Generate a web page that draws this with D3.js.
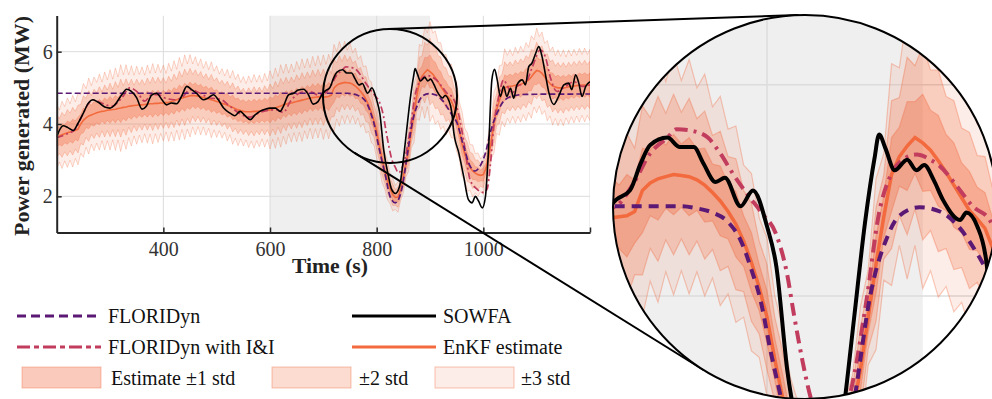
<!DOCTYPE html>
<html>
<head>
<meta charset="utf-8">
<script src="https://cdn.jsdelivr.net/npm/d3@7"></script>
<style>
  body { margin: 0; background: #fff; }
  svg { display: block; font-family: "Liberation Serif", "DejaVu Serif", serif; }
</style>
</head>
<body>
<div id="chart"></div>
<script>
// ---- data ----
const xTicks = [400, 600, 800, 1000, 1200];
const yTicks = [2, 4, 6];
const shadeSpan = [600, 900];

// SOWFA reference power (MW)
const sowfaTime = [200,206,212,221,231,240,249,259,268,278,290,300,309,322,331,340,350,360,368,378,387,397,406,415,425,434,444,453,462,475,484,494,503,513,525,534,544,553,563,572,581,591,600,610,619,625,635,644,653,663,672,681,690,697,703,712,719,725,736,744,753,759,767,773,783,791,800,806,813,822,828,835,843,850,856,863,869,872,876,882,890,896,901,907,913,924,928,935,941,944,954,963,972,979,985,991,998,1004,1010,1016,1021,1026,1032,1038,1044,1051,1057,1063,1073,1079,1085,1091,1098,1104,1110,1117,1123,1132,1141,1151,1160,1166,1173,1179,1185,1192,1200];
const sowfaPower = [3.65,3.85,3.95,3.90,3.82,4.02,4.27,4.57,4.67,4.60,4.47,4.44,4.53,4.81,4.96,4.90,4.72,4.41,4.49,4.80,4.85,4.68,4.53,4.58,4.56,4.76,5.04,4.95,4.85,4.67,4.72,4.81,4.67,4.44,4.30,4.23,4.35,4.23,4.12,4.25,4.35,4.41,4.44,4.44,4.35,4.49,4.81,4.85,4.94,4.96,4.81,4.55,4.62,4.80,4.91,5.00,5.26,5.43,5.50,5.41,5.41,5.26,5.08,5.12,4.85,5.00,4.66,4.28,3.30,2.56,2.19,2.08,2.28,3.02,3.80,4.70,5.30,5.53,5.40,5.19,5.29,5.19,5.24,5.10,4.91,4.72,4.79,4.66,4.31,3.84,3.20,2.56,1.91,1.82,2.00,1.87,1.68,2.00,3.38,5.22,5.51,5.22,4.76,5.04,4.76,4.99,4.71,5.08,5.22,5.08,5.58,5.68,5.95,6.14,5.87,5.32,4.86,4.54,4.76,5.08,5.13,4.95,5.36,5.13,4.76,5.04,5.17];

// FLORIDyn (open loop)
const floriTime = [200,745,755,765,775,783,790,796,802,808,816,825,835,847,857,866,877,885,898,911,924,935,941,950,963,975,985,994,1004,1013,1026,1038,1057,1080,1200];
const floriPower = [4.85,4.85,4.83,4.79,4.70,4.53,4.25,3.95,3.50,3.10,2.60,2.00,1.82,2.20,3.10,3.98,4.55,4.76,4.84,4.80,4.64,4.40,4.25,4.05,3.39,2.84,2.70,2.84,3.20,3.76,4.31,4.63,4.78,4.82,4.83];

// FLORIDyn with I&I
const iiTime = [200,215,235,246,259,268,284,303,322,337,350,365,378,390,403,421,437,450,462,487,506,525,544,563,575,594,613,625,638,650,666,678,690,703,714,725,736,742,753,762,770,778,787,797,806,813,817,823,828,835,841,848,855,864,872,879,887,896,905,911,922,932,943,950,963,975,988,1000,1007,1013,1019,1029,1038,1044,1054,1063,1079,1091,1107,1117,1126,1138,1154,1170,1185,1200];
const iiPower = [3.62,3.70,3.86,4.18,4.55,4.67,4.58,4.49,4.72,5.00,4.90,4.63,4.81,4.81,4.72,4.67,4.76,4.95,4.90,4.72,4.69,4.49,4.28,4.19,4.28,4.37,4.39,4.32,4.62,4.81,4.90,4.88,4.80,4.85,5.06,5.35,5.50,5.58,5.56,5.50,5.35,5.16,4.97,4.78,4.58,4.20,3.85,3.37,3.04,2.80,2.65,2.80,3.18,3.97,4.79,5.13,5.29,5.34,5.29,5.23,5.04,4.85,4.72,4.48,3.56,2.47,2.20,2.11,2.20,2.84,3.86,4.76,5.22,5.08,4.85,5.04,5.13,5.54,6.05,5.82,5.27,4.90,5.04,5.17,5.04,5.08];

// EnKF estimate, sampled every 5 s, with its standard deviation
const enkfTime = d3.range(200, 1201, 5);
const enkfPower = [
  3.65,3.67,3.70,3.73,3.76,3.78,3.80,3.83,3.86,4.00,4.10,4.17,4.22,4.25,4.28,4.31,4.33,4.35,4.36,4.38,
  4.39,4.40,4.41,4.43,4.44,4.46,4.47,4.49,4.50,4.51,4.52,4.53,4.53,4.54,4.55,4.56,4.56,4.57,4.57,4.58,
  4.58,4.59,4.60,4.62,4.64,4.67,4.70,4.72,4.74,4.76,4.78,4.79,4.78,4.77,4.75,4.73,4.71,4.69,4.67,4.65,
  4.62,4.60,4.57,4.55,4.52,4.49,4.46,4.42,4.39,4.37,4.35,4.34,4.34,4.34,4.35,4.35,4.36,4.37,4.38,4.38,
  4.39,4.42,4.44,4.47,4.50,4.53,4.55,4.57,4.58,4.60,4.62,4.64,4.66,4.68,4.70,4.72,4.73,4.74,4.75,4.75,
  4.74,4.75,4.76,4.80,5.00,5.07,5.11,5.13,5.15,5.14,5.13,5.10,5.05,4.98,4.90,4.80,4.68,4.52,4.32,4.08,
  3.80,3.40,3.04,2.72,2.45,2.22,2.05,1.97,1.98,2.20,2.55,2.90,3.30,3.80,4.30,4.75,5.15,5.32,5.42,5.50,
  5.45,5.38,5.28,5.17,5.05,4.93,4.81,4.73,4.64,4.45,4.20,3.82,3.45,3.17,2.95,2.80,2.70,2.64,2.60,2.58,
  2.60,2.78,3.10,3.55,4.05,4.40,4.65,4.85,5.00,5.03,5.04,5.05,5.07,5.08,5.10,5.13,5.17,5.22,5.30,5.40,
  5.48,5.46,5.40,5.30,5.20,5.12,5.05,5.02,5.00,5.00,5.00,5.01,5.03,5.04,5.05,5.06,5.07,5.08,5.08,5.08,
  5.08];
const enkfStd = [
  0.30,0.24,0.31,0.25,0.32,0.26,0.33,0.26,0.33,0.27,0.34,0.27,0.35,0.27,0.34,0.28,0.35,0.27,0.36,0.28,
  0.37,0.28,0.38,0.29,0.40,0.30,0.39,0.29,0.37,0.28,0.36,0.28,0.35,0.27,0.36,0.28,0.37,0.28,0.36,0.28,
  0.35,0.27,0.36,0.28,0.37,0.28,0.38,0.29,0.39,0.30,0.38,0.29,0.36,0.28,0.35,0.27,0.34,0.27,0.35,0.27,
  0.33,0.26,0.32,0.26,0.33,0.26,0.34,0.27,0.33,0.26,0.32,0.26,0.33,0.27,0.34,0.27,0.33,0.26,0.34,0.27,
  0.36,0.28,0.37,0.28,0.38,0.29,0.37,0.28,0.36,0.28,0.37,0.29,0.38,0.29,0.37,0.28,0.38,0.29,0.38,0.29,
  0.39,0.30,0.39,0.30,0.40,0.31,0.39,0.30,0.38,0.30,0.37,0.29,0.35,0.27,0.33,0.26,0.31,0.24,0.28,0.22,
  0.25,0.20,0.22,0.17,0.18,0.14,0.15,0.11,0.14,0.10,0.15,0.12,0.20,0.15,0.27,0.20,0.35,0.28,0.42,0.34,
  0.46,0.38,0.43,0.36,0.40,0.33,0.37,0.30,0.34,0.28,0.32,0.26,0.30,0.24,0.27,0.21,0.24,0.18,0.20,0.15,
  0.18,0.14,0.22,0.17,0.28,0.22,0.32,0.26,0.36,0.29,0.34,0.28,0.35,0.29,0.35,0.29,0.36,0.30,0.38,0.31,
  0.39,0.32,0.38,0.31,0.37,0.30,0.36,0.29,0.35,0.29,0.35,0.28,0.34,0.28,0.34,0.28,0.34,0.28,0.34,0.28,
  0.33];

const bandLevels = [3, 2, 1];
const bandAlpha = [0.12, 0.24, 0.35];

// ---- layout ----
const W = 992, H = 399;
const colors = { flori: '#5b1874', ii: '#c23c5e', sowfa: '#000000', enkf: '#f26a3d', band: '#f26b3f' };

const svg = d3.select('#chart').append('svg')
  .attr('width', W).attr('height', H)
  .attr('viewBox', [0, 0, W, H]);

const x = d3.scaleLinear().domain([200, 1200]).range([56.7, 590]);
const y = d3.scaleLinear().domain([1, 7]).range([232.5, 15.5]);

// magnified copy: scale factor about (800 s, 4 MW)
const mag = 2.92;
const zx0 = 767, zy0 = 296;
const xZ = d3.scaleLinear().domain(x.domain())
  .range(x.range().map(v => zx0 + (v - x(800)) * mag));
const yZ = d3.scaleLinear().domain(y.domain())
  .range(y.range().map(v => zy0 + (v - y(4)) * mag));

const small = { cx: 390, cy: 96, r: 67 };
const big = { cx: 805, cy: 207, r: 192 };

const enkf = enkfTime.map((t, i) => ({ t, v: enkfPower[i], s: enkfStd[i] }));
const sowfa = sowfaTime.map((t, i) => ({ t, v: sowfaPower[i] }));
const flori = floriTime.map((t, i) => ({ t, v: floriPower[i] }));
const ii = iiTime.map((t, i) => ({ t, v: iiPower[i] }));

function drawPanel(g, xs, ys, st) {
  const [x0, x1] = xs.range(), [y0, y1] = ys.range();
  g.append('rect')
    .attr('x', xs(shadeSpan[0])).attr('y', y1)
    .attr('width', xs(shadeSpan[1]) - xs(shadeSpan[0])).attr('height', y0 - y1)
    .attr('fill', '#efefef');

  g.selectAll('line.gx').data(xTicks).join('line').attr('class', 'gx')
    .attr('x1', d => xs(d)).attr('x2', d => xs(d))
    .attr('y1', y0).attr('y2', y1)
    .attr('stroke', '#dcdcdc').attr('stroke-width', st.grid);
  g.selectAll('line.gy').data(yTicks).join('line').attr('class', 'gy')
    .attr('x1', x0).attr('x2', x1)
    .attr('y1', d => ys(d)).attr('y2', d => ys(d))
    .attr('stroke', '#dcdcdc').attr('stroke-width', st.grid);

  bandLevels.forEach((k, i) => {
    const area = d3.area()
      .x(d => xs(d.t))
      .y0(d => ys(d.v - k * d.s))
      .y1(d => ys(d.v + k * d.s));
    g.append('path').datum(enkf)
      .attr('d', area)
      .attr('fill', colors.band).attr('fill-opacity', bandAlpha[i])
      .attr('stroke', colors.band).attr('stroke-opacity', 0.35)
      .attr('stroke-width', st.edge);
  });

  const lineOf = (curve) => d3.line().x(d => xs(d.t)).y(d => ys(d.v)).curve(curve);

  g.append('path').datum(enkf).attr('d', lineOf(d3.curveLinear))
    .attr('fill', 'none').attr('stroke', colors.enkf).attr('stroke-width', st.enkf);
  g.append('path').datum(ii).attr('d', lineOf(d3.curveMonotoneX))
    .attr('fill', 'none').attr('stroke', colors.ii).attr('stroke-width', st.dash)
    .attr('stroke-dasharray', st.iiDash);
  g.append('path').datum(flori).attr('d', lineOf(d3.curveMonotoneX))
    .attr('fill', 'none').attr('stroke', colors.flori).attr('stroke-width', st.dash)
    .attr('stroke-dasharray', st.floriDash);
  g.append('path').datum(sowfa).attr('d', lineOf(d3.curveMonotoneX))
    .attr('fill', 'none').attr('stroke', colors.sowfa).attr('stroke-width', st.sowfa)
    .attr('stroke-linejoin', 'round');
}

// ---- main axes ----
const defs = svg.append('defs');
defs.append('clipPath').attr('id', 'plotClip').append('rect')
  .attr('x', x.range()[0]).attr('y', y.range()[1])
  .attr('width', x.range()[1] - x.range()[0]).attr('height', y.range()[0] - y.range()[1]);
defs.append('clipPath').attr('id', 'zoomClip').append('circle')
  .attr('cx', big.cx).attr('cy', big.cy).attr('r', big.r);

const main = svg.append('g').attr('clip-path', 'url(#plotClip)');
drawPanel(main, x, y, { grid: 1, edge: 0.8, enkf: 1.6, dash: 1.7, sowfa: 1.6, floriDash: '6,3', iiDash: '7,3,2,3' });

const xAxis = svg.append('g')
  .attr('transform', `translate(0,${y(1)})`)
  .call(d3.axisBottom(x).tickValues(xTicks).tickSize(-5).tickSizeOuter(0).tickPadding(9)
    .tickFormat(d => d === 1200 ? '' : d3.format('d')(d)));
const yAxis = svg.append('g')
  .attr('transform', `translate(${x(200)},0)`)
  .call(d3.axisLeft(y).tickValues(yTicks).tickSize(-5).tickSizeOuter(0).tickPadding(4)
    .tickFormat(d3.format('d')));
[xAxis, yAxis].forEach(a => {
  a.select('.domain').attr('stroke', '#262626').attr('stroke-width', 2);
  a.selectAll('.tick line').attr('stroke', '#262626').attr('stroke-width', 1.5);
  a.selectAll('.tick text').attr('fill', '#333').attr('font-size', 20)
    .attr('font-family', '"Liberation Serif", serif');
});

svg.append('text')
  .attr('x', 330).attr('y', 273).attr('text-anchor', 'middle')
  .attr('font-weight', 'bold').attr('font-size', 20).attr('fill', '#222')
  .attr('textLength', 76).attr('lengthAdjust', 'spacingAndGlyphs')
  .text('Time (s)');
svg.append('text')
  .attr('transform', 'translate(29,126) rotate(-90)').attr('text-anchor', 'middle')
  .attr('font-weight', 'bold').attr('font-size', 20).attr('fill', '#222')
  .attr('textLength', 220).attr('lengthAdjust', 'spacingAndGlyphs')
  .text('Power generated (MW)');

// ---- magnifier ----
function tangents(c1, c2) {
  const dx = c2.cx - c1.cx, dy = c2.cy - c1.cy;
  const d = Math.hypot(dx, dy), base = Math.atan2(dy, dx);
  const off = Math.acos((c2.r - c1.r) / d);
  return [base + off, base - off].map(th => {
    const nx = Math.cos(th), ny = Math.sin(th);
    return [[c1.cx - c1.r * nx, c1.cy - c1.r * ny], [c2.cx - c2.r * nx, c2.cy - c2.r * ny]];
  });
}

svg.append('circle').attr('cx', small.cx).attr('cy', small.cy).attr('r', small.r)
  .attr('fill', 'none').attr('stroke', '#000').attr('stroke-width', 2);

tangents(small, big).forEach(seg => {
  svg.append('line')
    .attr('x1', seg[0][0]).attr('y1', seg[0][1])
    .attr('x2', seg[1][0]).attr('y2', seg[1][1])
    .attr('stroke', '#000').attr('stroke-width', 2);
});

const zoomG = svg.append('g').attr('clip-path', 'url(#zoomClip)');
zoomG.append('rect').attr('x', big.cx - big.r).attr('y', big.cy - big.r)
  .attr('width', 2 * big.r).attr('height', 2 * big.r).attr('fill', '#fff');
drawPanel(zoomG, xZ, yZ, { grid: 1.5, edge: 1.2, enkf: 3.5, dash: 4, sowfa: 4, floriDash: '10,7', iiDash: '13,6,3,6' });

svg.append('circle').attr('cx', big.cx).attr('cy', big.cy).attr('r', big.r)
  .attr('fill', 'none').attr('stroke', '#000').attr('stroke-width', 2);

// ---- legend ----
const legendLines = [
  { label: 'FLORIDyn', color: colors.flori, dash: '9,5', x: 17, y: 316 },
  { label: 'FLORIDyn with I&I', color: colors.ii, dash: '13,4,5,4', x: 17, y: 347 },
  { label: 'SOWFA', color: colors.sowfa, dash: null, x: 352, y: 316 },
  { label: 'EnKF estimate', color: colors.enkf, dash: null, x: 352, y: 347 }
];
const legendPatches = [
  { label: 'Estimate \u00b11 std', alpha: bandAlpha[2], x: 22, tx: 111 },
  { label: '\u00b12 std', alpha: bandAlpha[1], x: 272, tx: 359 },
  { label: '\u00b13 std', alpha: bandAlpha[0], x: 435, tx: 521 }
];
const leg = svg.append('g').attr('font-size', 20).attr('fill', '#111');
legendLines.forEach(d => {
  leg.append('line').attr('x1', d.x).attr('x2', d.x + 84).attr('y1', d.y).attr('y2', d.y)
    .attr('stroke', d.color).attr('stroke-width', 3)
    .attr('stroke-dasharray', d.dash);
  leg.append('text').attr('x', d.x + 91).attr('y', d.y + 7).text(d.label);
});
legendPatches.forEach(d => {
  leg.append('rect').attr('x', d.x).attr('y', 367).attr('width', 79).attr('height', 21)
    .attr('fill', colors.band).attr('fill-opacity', d.alpha)
    .attr('stroke', colors.band).attr('stroke-opacity', 0.4).attr('stroke-width', 1);
  leg.append('text').attr('x', d.tx).attr('y', 385).text(d.label);
});
</script>
</body>
</html>
